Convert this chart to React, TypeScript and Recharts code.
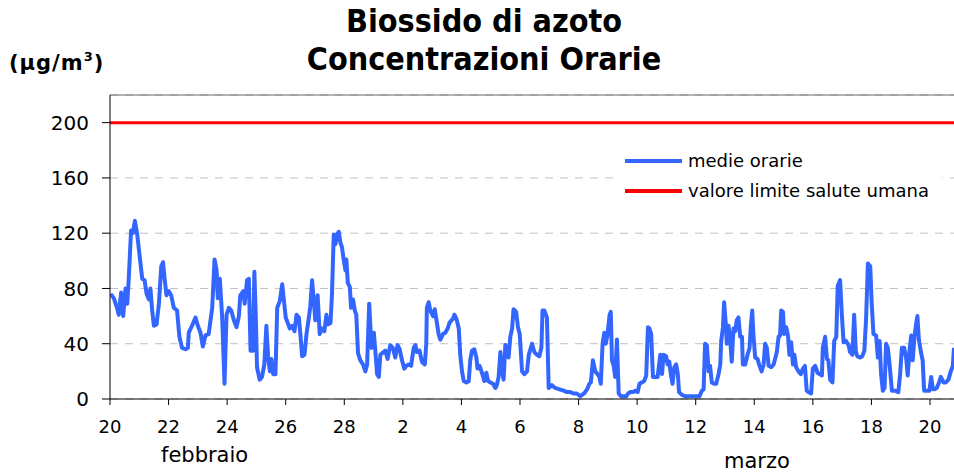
import React from "react";
import { LineChart, Line, XAxis, YAxis, CartesianGrid, ReferenceLine } from "recharts";

// giorni trascorsi dal 20 febbraio, concentrazione NO2 (µg/m³)
const febbraioA: [number, number][] = [
  [0.02, 76], [0.13, 73], [0.24, 66], [0.3, 61], [0.38, 77], [0.45, 60], [0.53, 80], [0.59, 69],
  [0.64, 87], [0.72, 122], [0.78, 120], [0.85, 129], [0.93, 119], [1.02, 102], [1.1, 87], [1.18, 86],
  [1.25, 76], [1.33, 72], [1.38, 80], [1.44, 64], [1.5, 53], [1.59, 54], [1.67, 69], [1.75, 96],
  [1.81, 99], [1.87, 86], [1.93, 75], [2.01, 78], [2.09, 75], [2.18, 66], [2.29, 64], [2.37, 45],
  [2.46, 37], [2.58, 36], [2.66, 37], [2.69, 48], [2.8, 53], [2.92, 59], [3.0, 53], [3.09, 48],
  [3.17, 38], [3.26, 46], [3.37, 47], [3.49, 66], [3.57, 101], [3.64, 93], [3.68, 73], [3.75, 87],
  [3.83, 59], [3.91, 11], [3.98, 61], [4.06, 66], [4.14, 64], [4.23, 57], [4.32, 52], [4.4, 60],
  [4.45, 75], [4.55, 78], [4.6, 69], [4.68, 86], [4.74, 87],
];

const febbraioB: [number, number][] = [
  [4.8, 35], [4.88, 35], [4.93, 92], [4.98, 59], [5.02, 23], [5.11, 14], [5.19, 16], [5.27, 25],
  [5.34, 53], [5.4, 30], [5.46, 20], [5.51, 29], [5.57, 18], [5.65, 18], [5.71, 66], [5.8, 71],
  [5.88, 83], [5.93, 73], [6.0, 59], [6.07, 55], [6.14, 51], [6.22, 53], [6.3, 49], [6.37, 61],
  [6.45, 59], [6.5, 47], [6.56, 31], [6.64, 32], [6.71, 47], [6.79, 59], [6.84, 67], [6.9, 86],
  [6.96, 71], [7.01, 57], [7.09, 75], [7.16, 47], [7.24, 51], [7.32, 49], [7.39, 61], [7.44, 54],
  [7.53, 55], [7.58, 76], [7.64, 119], [7.7, 112], [7.75, 119], [7.81, 121], [7.87, 113], [7.92, 110],
  [7.98, 101], [8.04, 93], [8.07, 101], [8.12, 84], [8.19, 81], [8.23, 66], [8.3, 72], [8.36, 64],
  [8.41, 61], [8.47, 33], [8.55, 28], [8.64, 25], [8.72, 20], [8.78, 25], [8.85, 69], [8.93, 37],
  [9.01, 48], [9.06, 35], [9.12, 18], [9.18, 16], [9.23, 32],
];

const marzoA: [number, number][] = [
  [9.4, 35], [9.48, 29], [9.57, 39], [9.66, 37], [9.74, 30], [9.82, 39], [9.89, 36], [9.97, 28],
  [10.05, 22], [10.12, 24], [10.2, 25], [10.28, 24], [10.37, 37], [10.43, 39], [10.48, 34], [10.57, 35],
  [10.65, 27], [10.75, 25], [10.8, 40], [10.82, 66], [10.88, 70], [10.94, 64], [11.03, 60], [11.09, 65],
  [11.17, 54], [11.22, 47], [11.28, 43], [11.37, 47], [11.45, 48], [11.53, 51], [11.59, 55], [11.66, 57],
  [11.71, 58], [11.76, 61], [11.83, 58], [11.91, 51], [11.96, 32], [12.02, 20], [12.08, 13], [12.17, 12],
  [12.25, 13], [12.3, 28], [12.36, 35], [12.44, 36], [12.51, 30], [12.55, 22], [12.62, 24], [12.7, 19],
  [12.78, 13], [12.85, 19], [12.91, 13], [12.99, 12], [13.08, 11], [13.16, 8], [13.21, 10], [13.27, 16],
  [13.33, 34], [13.39, 20], [13.44, 14], [13.5, 39], [13.56, 37], [13.61, 30], [13.67, 45], [13.73, 51],
  [13.78, 65], [13.87, 63], [13.93, 52], [13.99, 47], [14.07, 20], [14.15, 18], [14.24, 20], [14.3, 32],
];

const marzoB: [number, number][] = [
  [14.41, 40], [14.49, 34], [14.58, 32], [14.66, 31], [14.73, 37], [14.77, 64], [14.83, 64], [14.92, 59],
  [14.98, 8], [15.09, 10], [15.2, 8], [15.35, 7], [15.49, 6], [15.6, 5], [15.72, 5], [15.83, 4],
  [15.94, 4], [16.06, 2], [16.19, 4], [16.29, 7], [16.37, 11], [16.42, 12], [16.49, 28], [16.57, 20],
  [16.65, 18], [16.71, 16], [16.76, 11], [16.82, 40], [16.88, 48], [16.93, 40], [16.99, 47], [17.06, 61],
  [17.1, 63], [17.14, 28], [17.2, 24], [17.25, 16], [17.31, 43], [17.37, 4], [17.45, 2], [17.54, 2],
  [17.63, 2], [17.69, 4], [17.77, 5], [17.86, 5], [17.94, 6], [18.02, 5], [18.08, 11], [18.16, 12],
  [18.24, 13], [18.31, 17], [18.37, 52], [18.42, 51], [18.48, 47], [18.54, 16], [18.62, 16], [18.7, 16],
  [18.79, 32], [18.85, 18], [18.9, 32], [18.99, 31], [19.04, 25], [19.1, 27], [19.15, 18], [19.21, 11],
  [19.27, 23], [19.33, 25], [19.39, 18], [19.43, 5], [19.53, 3], [19.64, 2], [19.81, 2], [19.98, 2],
  [20.13, 2], [20.21, 6], [20.27, 7], [20.32, 40], [20.38, 39], [20.44, 20], [20.49, 24], [20.55, 12],
  [20.63, 11], [20.7, 11], [20.78, 18], [20.84, 25], [20.87, 42], [20.93, 52], [20.97, 70], [21.03, 54],
  [21.06, 40], [21.12, 53], [21.18, 42], [21.23, 27], [21.29, 51], [21.35, 49], [21.4, 57], [21.46, 59],
  [21.52, 45], [21.58, 45], [21.61, 25], [21.69, 25], [21.77, 32], [21.84, 37], [21.88, 52], [21.93, 64],
  [21.97, 47], [22.03, 30], [22.11, 29], [22.18, 24], [22.25, 20], [22.32, 25], [22.37, 40], [22.43, 37],
  [22.49, 24], [22.58, 23], [22.66, 25], [22.71, 29], [22.77, 34], [22.83, 45], [22.88, 46], [22.92, 64],
  [22.98, 63], [23.02, 47], [23.09, 52], [23.15, 46], [23.2, 32], [23.26, 41], [23.32, 25], [23.37, 32],
  [23.43, 23], [23.51, 20], [23.59, 18], [23.66, 22], [23.73, 24], [23.79, 6],
];

const marzoC: [number, number][] = [
  [23.85, 5], [23.94, 4], [24.0, 22], [24.08, 24], [24.16, 19], [24.23, 18], [24.31, 17], [24.34, 37],
  [24.42, 45], [24.48, 29], [24.53, 28], [24.59, 14], [24.67, 12], [24.73, 42], [24.8, 45], [24.85, 82],
  [24.93, 86], [24.99, 61], [25.05, 41], [25.13, 42], [25.22, 39], [25.27, 34], [25.35, 32], [25.41, 61],
  [25.47, 34], [25.52, 31], [25.61, 30], [25.69, 31], [25.76, 35], [25.82, 59], [25.88, 98], [25.96, 96],
  [26.01, 69], [26.07, 47], [26.16, 46], [26.22, 30], [26.28, 42], [26.33, 18], [26.39, 6], [26.45, 8],
  [26.5, 40], [26.56, 37], [26.62, 25], [26.7, 6], [26.81, 6], [26.92, 5], [26.98, 18], [27.04, 37],
  [27.12, 37], [27.19, 29], [27.24, 17], [27.3, 35], [27.36, 46], [27.41, 28], [27.47, 45], [27.53, 55],
  [27.57, 60], [27.62, 43], [27.69, 34], [27.75, 28], [27.8, 6], [27.89, 6], [27.98, 6], [28.04, 16],
  [28.1, 7], [28.15, 7], [28.23, 8], [28.31, 12], [28.37, 16], [28.46, 12], [28.54, 12], [28.63, 14],
  [28.71, 20], [28.78, 24], [28.82, 37],
];

const valoreLimite = 200;
const xTicks = [0, 2, 4, 6, 8, 10, 12, 14, 16, 18, 20, 22, 24, 26, 28];
const xTickLabels = ["20", "22", "24", "26", "28", "2", "4", "6", "8", "10", "12", "14", "16", "18", "20"];
const yTicks = [0, 40, 80, 120, 160, 200];

const data = [...febbraioA, ...febbraioB, ...marzoA, ...marzoB, ...marzoC].map(([day, value]) => ({
  day,
  value,
}));

const FONT = "'DejaVu Sans', Verdana, sans-serif";

export default function App() {
  return (
    <div style={{ position: "absolute", left: 0, top: 0, width: 954, height: 475, background: "#fff", fontFamily: FONT }}>
      <LineChart width={954} height={475} data={data} margin={{ top: 95, right: 0, bottom: 0, left: 0 }}>
        <CartesianGrid vertical={false} stroke="#c0c0c0" strokeDasharray="8 7" />
        <XAxis
          dataKey="day"
          type="number"
          domain={[0, 28.82]}
          allowDataOverflow
          ticks={xTicks}
          tickFormatter={(v) => xTickLabels[xTicks.indexOf(v)] ?? ""}
          height={76}
          tickSize={6}
          tickMargin={15}
          stroke="#000"
          tick={{ fill: "#000", fontSize: 18, fontFamily: FONT }}
        />
        <YAxis
          domain={[0, 220]}
          ticks={yTicks}
          width={110}
          tickSize={8}
          tickMargin={13}
          stroke="#000"
          tick={{ fill: "#000", fontSize: 20, fontFamily: FONT }}
        />
        <ReferenceLine y={220} stroke="#666" strokeWidth={1} />
        <ReferenceLine y={valoreLimite} stroke="#ff0000" strokeWidth={3} />
        <Line
          type="linear"
          dataKey="value"
          stroke="#3366ff"
          strokeWidth={4}
          strokeLinejoin="round"
          dot={false}
          isAnimationActive={false}
        />
      </LineChart>

      {/* titolo */}
      <div
        style={{
          position: "absolute",
          left: 184,
          top: 2,
          width: 600,
          textAlign: "center",
          fontFamily: "'DejaVu Sans Condensed', 'DejaVu Sans', sans-serif",
          fontStretch: "condensed",
          fontWeight: "bold",
          fontSize: 32,
          lineHeight: "38px",
        }}
      >
        <div>Biossido di azoto</div>
        <div>Concentrazioni Orarie</div>
      </div>

      <div style={{ position: "absolute", left: 9, top: 51, fontWeight: "bold", fontSize: 21, letterSpacing: 1 }}>
        (µg/m<sup style={{ fontSize: 13, verticalAlign: "9px", lineHeight: 0 }}>3</sup>)
      </div>

      {/* legenda */}
      <div style={{ position: "absolute", left: 618, top: 146, width: 324, height: 60, background: "#fff" }}>
        <div style={{ position: "absolute", left: 7, top: 13, width: 57, height: 4, background: "#3366ff" }} />
        <div style={{ position: "absolute", left: 70, top: 3, fontSize: 18, lineHeight: "24px" }}>medie orarie</div>
        <div style={{ position: "absolute", left: 7, top: 43, width: 57, height: 4, background: "#ff0000" }} />
        <div style={{ position: "absolute", left: 70, top: 33, fontSize: 18, lineHeight: "24px" }}>
          valore limite salute umana
        </div>
      </div>

      <div style={{ position: "absolute", left: 161, top: 441, fontSize: 21, lineHeight: "28px" }}>febbraio</div>
      <div style={{ position: "absolute", left: 724, top: 449, fontSize: 21, lineHeight: "24px" }}>marzo</div>
    </div>
  );
}
